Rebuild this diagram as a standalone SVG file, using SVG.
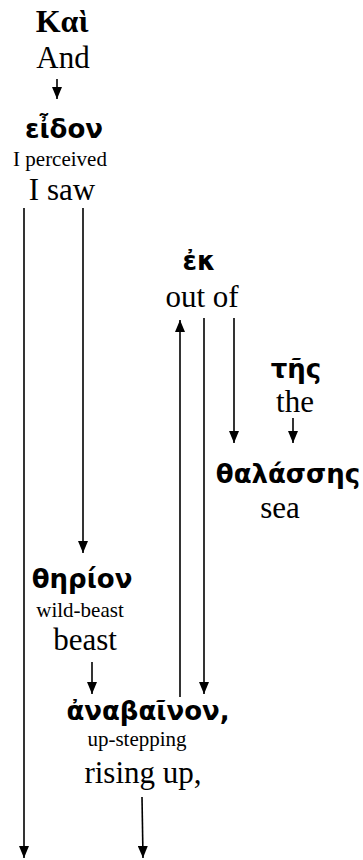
<svg xmlns="http://www.w3.org/2000/svg" width="363" height="860" viewBox="0 0 363 860">
<defs>
<marker id="ad" markerUnits="userSpaceOnUse" markerWidth="12" markerHeight="10" viewBox="0 0 12 10" refX="12" refY="5" orient="auto">
<path d="M0,0 L12,5 L0,10 Z" fill="#000"/>
</marker>
</defs>
<style>
.gk{font-family:"DejaVu Sans","Noto Sans",sans-serif;font-weight:bold;font-size:26px;fill:#000;text-anchor:middle}
.gs{font-family:"Liberation Serif","DejaVu Serif",serif;font-weight:bold;font-size:32px;fill:#000;text-anchor:middle}
.en{font-family:"Liberation Serif","Times New Roman",serif;font-size:31px;fill:#000;text-anchor:middle}
.sm{font-family:"Liberation Serif","Times New Roman",serif;font-size:21px;fill:#000;text-anchor:middle}
.c{stroke:#000;stroke-width:1.6;fill:none;marker-end:url(#ad)}
</style>
<g id="connectors">
<line class="c" x1="57" y1="79" x2="57" y2="99"/>
<line class="c" x1="24" y1="208" x2="24" y2="858"/>
<line class="c" x1="83" y1="208" x2="83" y2="553"/>
<line class="c" x1="180" y1="697" x2="180" y2="320"/>
<line class="c" x1="204" y1="318" x2="204" y2="694"/>
<line class="c" x1="234" y1="318" x2="234" y2="443"/>
<line class="c" x1="293" y1="418" x2="293" y2="443"/>
<line class="c" x1="92" y1="662" x2="92" y2="694"/>
<line class="c" x1="142" y1="797" x2="143" y2="858"/>
</g>
<g id="kai">
<text class="gs" x="62" y="32">Kαὶ</text>
<text class="en" x="63" y="68">And</text>
</g>
<g id="eidon">
<text class="gk" x="64" y="138">εἶδον</text>
<text class="sm" x="60" y="166">I perceived</text>
<text class="en" x="62" y="200">I saw</text>
</g>
<g id="ek">
<text class="gk" x="199" y="270">ἐκ</text>
<text class="en" x="202" y="307">out of</text>
</g>
<g id="tes">
<text class="gk" x="296" y="378">τῆς</text>
<text class="en" x="295" y="412">the</text>
</g>
<g id="thalasses">
<text class="gk" x="288" y="483">θαλάσσης</text>
<text class="en" x="280" y="518">sea</text>
</g>
<g id="therion">
<text class="gk" x="82" y="588">θηρίον</text>
<text class="sm" x="80" y="617">wild-beast</text>
<text class="en" x="85" y="650">beast</text>
</g>
<g id="anabainon">
<text class="gk" x="148" y="720">ἀναβαῖνον,</text>
<text class="sm" x="137" y="746">up-stepping</text>
<text class="en" x="143" y="783">rising up,</text>
</g>
</svg>
